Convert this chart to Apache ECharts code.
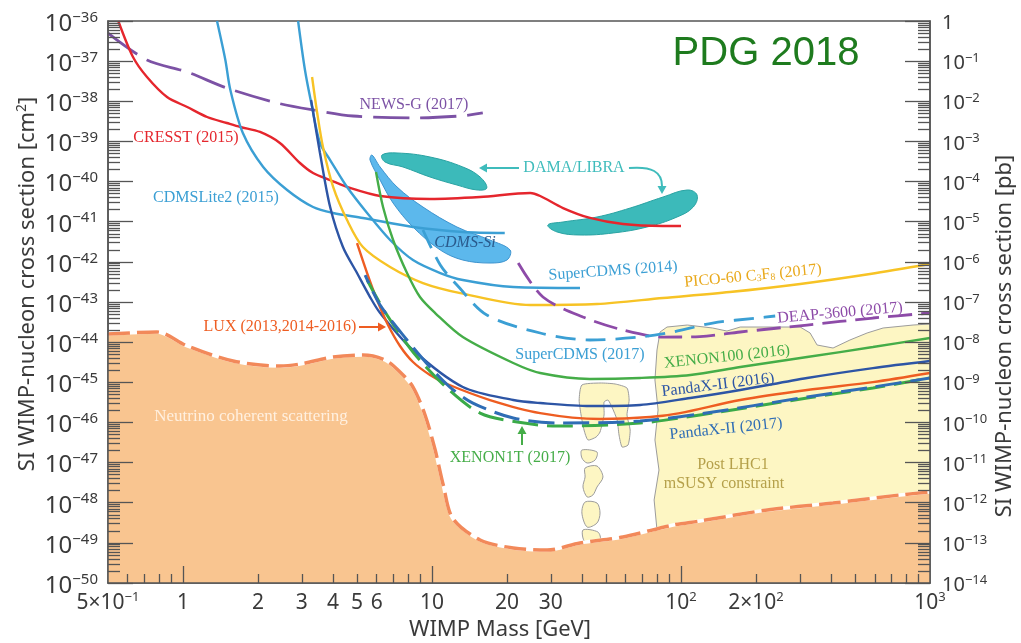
<!DOCTYPE html>
<html>
<head>
<meta charset="utf-8">
<script src="https://cdn.jsdelivr.net/npm/echarts@6/dist/echarts.min.js"></script>
<style>
  html, body { margin: 0; padding: 0; background: #ffffff; }
  #chart { width: 1021px; height: 643px; }
</style>
</head>
<body>
<div id="chart"></div>
<script>
// Spin-independent WIMP-nucleon limits. Points are [WIMP mass (GeV), cross section (cm^2)].
const cresst2015 = [[0.55, 1.0e-36], [0.63, 1.27e-37], [0.717, 4.03e-38], [0.863, 1.28e-38], [1.04, 7.21e-39],
  [1.25, 4.06e-39], [1.50, 2.88e-39], [1.70, 2.29e-39], [2.04, 1.72e-39], [2.45, 9.14e-40], [2.95, 2.90e-40],
  [3.33, 1.63e-40], [3.90, 1.09e-40], [4.69, 6.92e-41], [6.19, 4.37e-41], [9.82, 3.68e-41], [15.6, 4.12e-41],
  [24.8, 5.19e-41], [27.2, 4.37e-41], [33.6, 2.19e-41], [43.1, 1.24e-41], [58.5, 8.77e-42], [84.7, 7.82e-42],
  [100, 7.8e-42]];
const newsG2017 = [[0.5, 5.0e-37], [0.717, 1.07e-37], [1.04, 5.36e-38], [1.50, 2.14e-38], [2.39, 9.06e-39],
  [3.33, 6.07e-39], [4.82, 4.30e-39], [8.39, 3.84e-39], [13.0, 4.30e-39], [16.0, 5.11e-39]];
const cdmsLite2015 = [[1.37, 1.0e-36], [1.48, 1.07e-37], [1.55, 1.91e-38], [1.74, 1.62e-39], [2.10, 2.31e-40],
  [2.62, 6.17e-41], [3.33, 2.32e-41], [4.01, 1.65e-41], [5.28, 1.24e-41], [8.39, 7.38e-42], [13.3, 5.55e-42],
  [19.6, 5.24e-42]];
const superCdms2014 = [[2.90, 1.0e-36], [3.09, 6.01e-38], [3.30, 7.21e-39], [3.55, 9.14e-40], [3.90, 3.44e-40],
  [4.56, 7.33e-41], [5.49, 1.65e-41], [6.79, 3.50e-42], [8.39, 1.11e-42], [10.8, 5.27e-43], [13.3, 3.53e-43],
  [21.2, 2.36e-43], [39.3, 2.23e-43]];
const pico2017 = [[3.30, 4.03e-38], [3.46, 5.11e-39], [3.65, 7.26e-40], [4.01, 7.33e-41], [4.56, 1.10e-41],
  [5.28, 2.34e-42], [6.79, 7.45e-43], [9.20, 2.97e-43], [13.0, 1.67e-43], [24.8, 8.41e-44], [46.0, 8.91e-44],
  [84.7, 1.26e-43], [157, 1.77e-43], [301, 2.81e-43], [574, 4.98e-43], [1000, 8.83e-43]];
const deap2017 = [[22.2, 9.35e-43], [27.9, 1.33e-43], [40.4, 4.23e-44], [58.5, 2.00e-44], [84.7, 1.34e-44],
  [119, 1.38e-44], [173, 1.79e-44], [321, 2.67e-44], [590, 3.99e-44], [1000, 5.32e-44]];
const superCdms2017 = [[9.20, 6.21e-42], [10.8, 8.34e-43], [12.6, 2.65e-43], [16.6, 4.74e-44], [27.2, 1.69e-44],
  [43.1, 1.13e-44], [68.5, 1.34e-44], [92.9, 1.79e-44], [134, 2.99e-44], [202, 3.99e-44], [239, 4.48e-44]];
const xenon100 = [[5.96, 1.73e-40], [6.36, 2.32e-41], [6.98, 3.50e-42], [7.94, 5.27e-43], [8.95, 1.33e-43],
  [10.3, 5.32e-44], [13.3, 1.34e-44], [21.2, 3.02e-45], [27.2, 1.70e-45], [43.1, 1.21e-45], [68.5, 1.28e-45],
  [109, 1.52e-45], [173, 2.40e-45], [321, 4.26e-45], [590, 7.55e-45], [1000, 1.27e-44]];
const pandax2016 = [[3.27, 1.08e-38], [3.55, 5.15e-40], [3.90, 2.32e-41], [4.39, 2.34e-42], [5.0, 5.27e-43],
  [5.64, 1.33e-43], [6.19, 5.32e-44], [8.39, 6.37e-45], [13.3, 7.62e-46], [21.2, 3.61e-46], [27.2, 3.04e-46],
  [43.1, 2.56e-46], [68.5, 2.72e-46], [109, 4.06e-46], [173, 6.41e-46], [321, 1.28e-45], [590, 2.26e-45],
  [1000, 3.39e-45]];
const lux = [[5.0, 2.94e-42], [5.49, 5.27e-43], [6.02, 1.12e-43], [6.66, 2.67e-44], [7.44, 8.02e-45],
  [8.39, 3.20e-45], [9.82, 1.52e-45], [11.5, 9.06e-46], [17.1, 3.61e-46], [27.2, 1.71e-46], [47.3, 1.22e-46],
  [75.1, 1.36e-46], [99, 1.71e-46], [173, 3.61e-46], [321, 6.41e-46], [590, 1.01e-45], [1000, 1.70e-45]];
const pandax2017 = [[5.39, 4.70e-43], [6.19, 8.41e-44], [7.94, 1.13e-44], [9.82, 2.40e-45], [11.8, 7.62e-46],
  [14.6, 3.04e-46], [21.2, 1.29e-46], [32.7, 9.66e-47], [68.5, 1.08e-46], [119, 1.62e-46], [321, 4.30e-46],
  [590, 7.62e-46], [1000, 1.28e-45]];
const xenon1t = [[5.49, 3.53e-43], [6.48, 5.64e-44], [8.39, 5.68e-45], [11.5, 7.19e-46], [15.6, 1.71e-46],
  [22.0, 1.02e-46], [31.8, 8.13e-47], [68.5, 9.66e-47], [119, 1.53e-46], [321, 4.06e-46], [590, 7.19e-46],
  [1000, 1.28e-45]];

// Neutrino coherent scattering floor
const neutrinoFloor = [[0.5, 1.59e-44], [0.787, 1.79e-44], [1.04, 8.02e-45], [1.59, 3.39e-45], [2.45, 2.54e-45],
  [2.95, 2.85e-45], [4.01, 4.26e-45], [5.28, 4.78e-45], [6.48, 3.59e-45], [7.44, 1.80e-45], [8.39, 7.62e-46],
  [9.38, 1.53e-46], [10.3, 2.05e-47], [11.1, 2.76e-48], [12.1, 4.15e-49], [15.6, 1.18e-49], [21.2, 7.43e-50],
  [29.0, 6.62e-50], [39.3, 9.91e-50], [58.5, 1.40e-49], [92.9, 2.78e-49], [119, 3.50e-49], [222, 6.58e-49],
  [408, 9.82e-49], [758, 1.56e-48], [1000, 1.85e-48]];

// Signal / allowed regions (closed outlines)
const damaLow = [[6.30, 4.59e-40], [7.24, 5.15e-40], [9.82, 4.09e-40], [13.3, 2.31e-40], [15.6, 1.30e-40],
  [16.6, 6.92e-41], [15.2, 6.17e-41], [12.6, 8.20e-41], [9.82, 1.30e-40], [7.65, 2.31e-40], [6.48, 3.07e-40]];
const damaHigh = [[29.2, 8.28e-42], [33.6, 9.84e-42], [46.0, 1.31e-41], [62.5, 2.19e-41], [84.7, 4.12e-41],
  [106, 6.17e-41], [116, 4.62e-41], [112, 2.32e-41], [96.4, 1.31e-41], [73.0, 7.38e-42], [53.4, 5.24e-42],
  [39.3, 4.67e-42], [31.8, 5.55e-42]];
const cdmsSi = [[5.74, 4.59e-40], [6.19, 2.31e-40], [7.24, 7.33e-41], [9.20, 2.32e-41], [12.6, 7.38e-42],
  [17.1, 3.50e-42], [20.6, 1.97e-42], [20.0, 1.11e-42], [17.1, 9.35e-43], [13.3, 1.11e-42], [10.8, 1.97e-42],
  [8.39, 7.38e-42], [6.98, 2.92e-41], [6.19, 1.09e-40], [5.64, 3.44e-40]];
const lhcMain = [[80.1, 1e-50], [80.1, 2.09e-49], [78.0, 1.17e-48], [81.6, 6.52e-48], [78.6, 3.65e-47],
  [80.9, 2.04e-46], [78.6, 1.14e-45], [80.1, 6.37e-45], [82.4, 1.79e-44], [87.9, 2.38e-44], [106, 2.67e-44],
  [134, 2.25e-44], [153, 1.89e-44], [173, 2.38e-44], [234, 2.38e-44], [301, 2.38e-44], [330, 1.69e-44],
  [352, 8.49e-45], [408, 7.14e-45], [477, 1.13e-44], [559, 1.69e-44], [648, 2.25e-44], [855, 2.67e-44],
  [1000, 2.83e-44], [1000, 1e-50]];
const lhcIsland1 = [[40.0, 8.55e-46], [47.3, 9.59e-46], [54.4, 9.06e-46], [60.7, 7.19e-46], [61.9, 3.61e-46],
  [60.7, 1.53e-46], [62.5, 6.47e-47], [61.3, 2.74e-47], [58.0, 2.44e-47], [56.4, 4.85e-47], [55.4, 1.15e-46],
  [52.8, 2.42e-46], [50.9, 3.61e-46], [49.1, 3.22e-46], [49.1, 1.53e-46], [47.3, 5.77e-47], [45.6, 4.32e-47],
  [42.3, 3.65e-47], [40.8, 6.47e-47], [39.7, 1.53e-46], [39.0, 3.61e-46]];
const lhcIsland2 = [[40.0, 2.05e-47], [46.0, 1.83e-47], [45.2, 1.16e-47], [42.0, 9.75e-48], [40.0, 1.30e-47]];
const lhcIsland3 = [[41.2, 7.31e-48], [46.0, 8.20e-48], [48.6, 4.37e-48], [46.0, 2.46e-48], [44.3, 1.56e-48],
  [42.0, 1.39e-48], [40.4, 2.46e-48], [41.2, 4.37e-48]];
const lhcIsland4 = [[41.2, 1.04e-48], [46.0, 9.82e-49], [47.3, 5.53e-49], [46.0, 3.12e-49], [42.0, 2.48e-49],
  [40.0, 5.53e-49]];
const lhcIsland5 = [[40.4, 2.09e-49], [46.4, 1.86e-49], [47.3, 1.18e-49], [41.2, 1.05e-49]];

// Axis tick values
const massLabels = [0.5, 1, 2, 3, 4, 5, 6, 10, 20, 30, 100, 200, 1000];
const massMajorTicks = [1, 10, 100];
const massMinorTicks = [0.6, 0.7, 0.8, 0.9, 2, 3, 4, 5, 6, 7, 8, 9, 20, 30, 40, 50, 60, 70, 80, 90,
  200, 300, 400, 500, 600, 700, 800, 900];
const sigmaMinExp = -50, sigmaMaxExp = -36;   // cm^2 decades
const pbMinExp = -14, pbMaxExp = 0;           // pb decades
const minorMultipliers = [2, 3, 4, 5, 6, 7, 8, 9];

const SANS = '"Noto Sans", "Open Sans", "DejaVu Sans", sans-serif';
const SERIF = '"Liberation Serif", "DejaVu Serif", serif';
const AXIS_COLOR = '#555555';
const LABEL_COLOR = '#3a3a3a';

const lg = pts => pts.map(([m, s]) => [Math.log10(m), Math.log10(s)]);
const xMin = Math.log10(0.5), xMax = 3;

const decadeMinorTicks = (lo, hi) => {
  const out = [];
  for (let e = lo; e < hi; e++) minorMultipliers.forEach(k => out.push(e + Math.log10(k)));
  return out;
};

const massLabelText = {
  '0.5': '{b|5×10}{s|−1}', '1': '{b|1}', '2': '{b|2}', '3': '{b|3}', '4': '{b|4}', '5': '{b|5}', '6': '{b|6}',
  '10': '{b|10}', '20': '{b|20}', '30': '{b|30}', '100': '{b|10}{s|2}', '200': '{b|2×10}{s|2}', '1000': '{b|10}{s|3}'
};
const decadeLabel = v => {
  const n = Math.round(v);
  return n === 0 ? '{b|1}' : '{b|10}{s|−' + (-n) + '}';
};
const richSet = (big, small) => ({
  b: { fontSize: big, fontFamily: SANS, color: LABEL_COLOR, lineHeight: big + 4 },
  s: { fontSize: small, fontFamily: SANS, color: LABEL_COLOR, verticalAlign: 'top', lineHeight: small + 1 }
});

const tickStyle = { color: AXIS_COLOR, width: 1.3 };
const lineAxisStyle = { show: true, onZero: false, lineStyle: { color: AXIS_COLOR, width: 1.5 } };

const curve = (name, pts, color, opt = {}) => ({
  name, type: 'line', data: lg(pts), symbol: 'none', smooth: opt.smooth ?? 0.3, clip: true, silent: true,
  z: opt.z ?? 6,
  lineStyle: { color, width: opt.width ?? 2.4, type: opt.dash ?? 'solid', dashOffset: opt.offset ?? 0, cap: 'butt' }
});

const region = (pts, fill, stroke, lineWidth, smooth, z) => ({
  type: 'custom', coordinateSystem: 'cartesian2d', clip: true, silent: true, z,
  data: [lg([pts[0]])[0]],
  renderItem: (params, api) => ({
    type: 'polygon',
    shape: { points: lg(pts).map(p => api.coord(p)), smooth },
    style: { fill, stroke, lineWidth }
  })
});

// Annotation text placed on the plot
const notes = [
  { text: 'NEWS-G (2017)', x: 414, y: 105, color: '#7c52a5' },
  { text: 'CRESST (2015)', x: 186, y: 138, color: '#e5262d' },
  { text: 'CDMSLite2 (2015)', x: 216, y: 198, color: '#3b9fd4' },
  { text: 'DAMA/LIBRA', x: 574, y: 168, color: '#3fbcbc' },
  { text: '{i|CDMS-Si}', x: 465, y: 243, color: '#2a5a8c' },
  { text: 'SuperCDMS (2014)', x: 613, y: 271, color: '#3b9fd4', rot: 4 },
  { text: 'PICO-60 C{sub|3}F{sub|8} (2017)', x: 753, y: 276, color: '#e9a91c', rot: 5.5 },
  { text: 'DEAP-3600 (2017)', x: 840, y: 313, color: '#8d4ba8', rot: 5 },
  { text: 'LUX (2013,2014-2016)', x: 280, y: 327, color: '#ee5d22' },
  { text: 'SuperCDMS (2017)', x: 580, y: 355, color: '#3b9fd4' },
  { text: 'XENON100 (2016)', x: 727, y: 357, color: '#45ad48', rot: 6 },
  { text: 'PandaX-II (2016)', x: 718, y: 385, color: '#2d55a5', rot: 7 },
  { text: 'PandaX-II (2017)', x: 726, y: 429, color: '#2f6db5', rot: 6 },
  { text: 'XENON1T (2017)', x: 510, y: 458, color: '#45ad48' },
  { text: 'Post LHC1', x: 733, y: 465, color: '#b5a04a' },
  { text: 'mSUSY constraint', x: 724, y: 484, color: '#b5a04a' },
  { text: 'Neutrino coherent scattering', x: 251, y: 417, color: '#fff0e0', size: 17 }
];

const noteElements = notes.map(n => ({
  type: 'text', x: n.x, y: n.y, rotation: (n.rot || 0) * Math.PI / 180, z: 100,
  style: {
    text: n.text, fill: n.color, font: (n.size || 16) + 'px ' + SERIF,
    align: 'center', verticalAlign: 'middle', textAlign: 'center', textVerticalAlign: 'middle',
    rich: {
      i: { fontStyle: 'italic', fontSize: 16, fontFamily: SERIF, fill: n.color, color: n.color },
      sub: { fontSize: 10, fontFamily: SERIF, fill: n.color, color: n.color, verticalAlign: 'bottom', lineHeight: 12, padding: [8, 0, 0, 0] }
    }
  }
}));

const arrowHead = (tip, dir, color) => {
  const [tx, ty] = tip, [dx, dy] = dir, L = 8, W = 4.5;
  const bx = tx - dx * L, by = ty - dy * L;
  return { type: 'polygon', z: 100, shape: { points: [[tx, ty], [bx - dy * W, by + dx * W], [bx + dy * W, by - dx * W]] }, style: { fill: color } };
};

const arrowElements = [
  { type: 'line', z: 100, shape: { x1: 519, y1: 168, x2: 487, y2: 168 }, style: { stroke: '#3fbcbc', lineWidth: 2 } },
  arrowHead([479, 168], [-1, 0], '#3fbcbc'),
  { type: 'bezierCurve', z: 100, shape: { x1: 629, y1: 168, cpx1: 652, cpy1: 166, cpx2: 662, cpy2: 172, x2: 662, y2: 186 },
    style: { stroke: '#3fbcbc', lineWidth: 2, fill: null } },
  arrowHead([662, 194], [0, 1], '#3fbcbc'),
  { type: 'line', z: 100, shape: { x1: 359, y1: 327, x2: 378, y2: 327 }, style: { stroke: '#ee5d22', lineWidth: 2 } },
  arrowHead([386, 327], [1, 0], '#ee5d22'),
  { type: 'line', z: 100, shape: { x1: 522, y1: 445, x2: 522, y2: 434 }, style: { stroke: '#45ad48', lineWidth: 2 } },
  arrowHead([522, 426], [0, -1], '#45ad48')
];

const titleElements = [
  { type: 'text', x: 766, y: 54, z: 100,
    style: { text: 'PDG 2018', fill: '#1e7b1e', font: '40px "Liberation Sans", Arial, sans-serif',
      align: 'center', verticalAlign: 'middle', textAlign: 'center', textVerticalAlign: 'middle' } },
  { type: 'text', x: 500, y: 630, z: 100,
    style: { text: 'WIMP Mass [GeV]', fill: LABEL_COLOR, font: '22px ' + SANS,
      align: 'center', verticalAlign: 'middle', textAlign: 'center', textVerticalAlign: 'middle' } },
  { type: 'text', x: 28, y: 284, z: 100, rotation: Math.PI / 2,
    style: { text: '{n|SI WIMP-nucleon cross section [cm}{s|2}{n|]}', fill: LABEL_COLOR,
      align: 'center', verticalAlign: 'middle', textAlign: 'center', textVerticalAlign: 'middle',
      rich: { n: { fontSize: 22, fontFamily: SANS, fill: LABEL_COLOR, color: LABEL_COLOR, lineHeight: 26 },
              s: { fontSize: 14, fontFamily: SANS, fill: LABEL_COLOR, color: LABEL_COLOR, verticalAlign: 'top', lineHeight: 15 } } } },
  { type: 'text', x: 1005, y: 336, z: 100, rotation: Math.PI / 2,
    style: { text: 'SI WIMP-nucleon cross section [pb]', fill: LABEL_COLOR, font: '22px ' + SANS,
      align: 'center', verticalAlign: 'middle', textAlign: 'center', textVerticalAlign: 'middle' } }
];

const chart = echarts.init(document.getElementById('chart'), null, { renderer: 'canvas' });
chart.setOption({
  animation: false,
  backgroundColor: '#ffffff',
  grid: { left: 108, right: 91, top: 21, bottom: 60, show: true, borderColor: AXIS_COLOR, borderWidth: 1.5,
    backgroundColor: 'transparent', containLabel: false, outerBoundsMode: 'none' },
  xAxis: [
    { type: 'value', min: xMin, max: xMax, position: 'bottom', z: 10,
      axisLine: lineAxisStyle,
      axisTick: { show: true, inside: true, length: 17, customValues: massMajorTicks.map(Math.log10), lineStyle: tickStyle },
      axisLabel: { show: true, margin: 8, customValues: massLabels.map(Math.log10),
        formatter: v => massLabelText[String(+Math.pow(10, v).toPrecision(3))] || '', rich: richSet(21, 13) },
      splitLine: { show: false } },
    { type: 'value', min: xMin, max: xMax, position: 'bottom', z: 10,
      axisLine: { show: false, onZero: false },
      axisTick: { show: true, inside: true, length: 9, customValues: massMinorTicks.map(Math.log10), lineStyle: tickStyle },
      axisLabel: { show: false }, splitLine: { show: false } }
  ],
  yAxis: [
    { type: 'value', min: sigmaMinExp, max: sigmaMaxExp, interval: 1, position: 'left', z: 10,
      axisLine: lineAxisStyle,
      axisTick: { show: true, inside: true, length: 25, lineStyle: tickStyle },
      axisLabel: { show: true, margin: 10, formatter: decadeLabel, rich: richSet(24, 15), padding: [6, 0, 0, 0] },
      splitLine: { show: false } },
    { type: 'value', min: pbMinExp, max: pbMaxExp, interval: 1, position: 'right', z: 10,
      axisLine: lineAxisStyle,
      axisTick: { show: true, inside: true, length: 25, lineStyle: tickStyle },
      axisLabel: { show: true, margin: 12, formatter: decadeLabel, rich: richSet(20, 13), padding: [5, 0, 0, 0] },
      splitLine: { show: false } },
    { type: 'value', min: sigmaMinExp, max: sigmaMaxExp, position: 'left', z: 10,
      axisLine: { show: false, onZero: false },
      axisTick: { show: true, inside: true, length: 12, customValues: decadeMinorTicks(sigmaMinExp, sigmaMaxExp), lineStyle: tickStyle },
      axisLabel: { show: false }, splitLine: { show: false } },
    { type: 'value', min: pbMinExp, max: pbMaxExp, position: 'right', z: 10,
      axisLine: { show: false, onZero: false },
      axisTick: { show: true, inside: true, length: 12, customValues: decadeMinorTicks(pbMinExp, pbMaxExp), lineStyle: tickStyle },
      axisLabel: { show: false }, splitLine: { show: false } }
  ],
  graphic: { elements: [...noteElements, ...arrowElements, ...titleElements] },
  series: [
    // Post-LHC1 mSUSY allowed region
    region(lhcMain, '#fdf6c3', '#9c9c9c', 1, 0, 1),
    region(lhcIsland1, '#fdf6c3', '#9c9c9c', 1, 0.2, 1),
    region(lhcIsland2, '#fdf6c3', '#9c9c9c', 1, 0.3, 1),
    region(lhcIsland3, '#fdf6c3', '#9c9c9c', 1, 0.3, 1),
    region(lhcIsland4, '#fdf6c3', '#9c9c9c', 1, 0.3, 1),
    region(lhcIsland5, '#fdf6c3', '#9c9c9c', 1, 0.3, 1),
    // Neutrino floor: filled area with a white edge under orange dashes
    { type: 'line', data: lg(neutrinoFloor), symbol: 'none', smooth: 0.3, clip: true, silent: true, z: 2,
      areaStyle: { color: '#f9c590', opacity: 1, origin: 'start' },
      lineStyle: { color: '#ffffff', width: 3.5 } },
    curve('Neutrino floor', neutrinoFloor, '#f2895a', { width: 3.5, dash: [22, 7], z: 3 }),
    // DAMA/LIBRA and CDMS-Si regions
    region(damaLow, '#3cbaba', '#2aa3a3', 1, 0.4, 4),
    region(damaHigh, '#3cbaba', '#2aa3a3', 1, 0.4, 4),
    region(cdmsSi, '#5cb8ec', '#3d94cf', 1, 0.35, 4),
    // Exclusion limits
    curve('NEWS-G (2017)', newsG2017, '#7c52a5', { width: 2.8, dash: [36, 11] }),
    curve('CRESST (2015)', cresst2015, '#e5262d'),
    curve('CDMSLite2 (2015)', cdmsLite2015, '#3b9fd4'),
    curve('SuperCDMS (2014)', superCdms2014, '#3b9fd4'),
    curve('PICO-60 (2017)', pico2017, '#f7c325'),
    curve('DEAP-3600 (2017)', deap2017, '#8d4ba8', { width: 2.8, dash: [24, 9] }),
    curve('SuperCDMS (2017)', superCdms2017, '#3b9fd4', { width: 2.8, dash: [20, 10] }),
    curve('XENON100 (2016)', xenon100, '#45ad48'),
    curve('PandaX-II (2016)', pandax2016, '#2d55a5'),
    curve('LUX (2013,2014-2016)', lux, '#ee5d22'),
    curve('XENON1T (2017)', xenon1t, '#3aaa48', { width: 3, dash: [26, 9], offset: 0 }),
    curve('PandaX-II (2017)', pandax2017, '#2f6db5', { width: 3, dash: [26, 9], offset: 17 })
  ]
});
</script>
</body>
</html>
